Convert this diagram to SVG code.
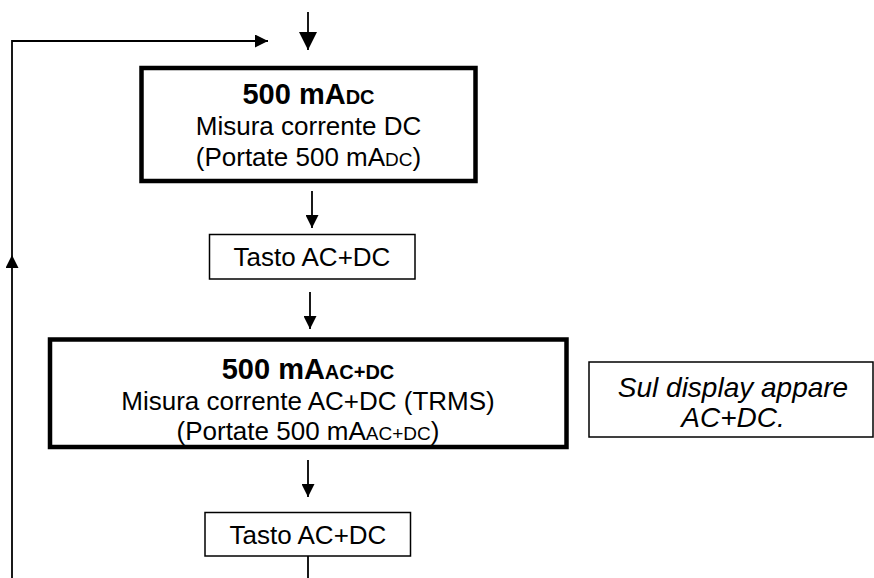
<svg xmlns="http://www.w3.org/2000/svg" width="874" height="578" viewBox="0 0 874 578">
<style>
text{font-family:"Liberation Sans",Arial,sans-serif;font-size:26px;fill:#000;text-anchor:middle}
.b{font-weight:bold;font-size:29px}
.i{font-style:italic;font-size:28px}
.s{font-size:19px}
.bs{font-size:20px}
.thick{fill:#fff;stroke:#000;stroke-width:4.5}
.thin{fill:#fff;stroke:#000;stroke-width:1.5}
.ln{fill:none;stroke:#000;stroke-width:1.8}
</style>
<defs>
<marker id="ah" viewBox="0 0 10 10" refX="10" refY="5" markerWidth="13" markerHeight="13" markerUnits="userSpaceOnUse" orient="auto"><path d="M0,0L10,5L0,10z" fill="#000"/></marker>
<marker id="ahb" viewBox="0 0 10 10" refX="10" refY="5" markerWidth="18" markerHeight="18" markerUnits="userSpaceOnUse" orient="auto"><path d="M0,0L10,5L0,10z" fill="#000"/></marker>
</defs>
<g id="connectors">
<path class="ln" d="M308,12V50" stroke-width="4.5" marker-end="url(#ahb)"/>
<path class="ln" d="M12,578V255" marker-end="url(#ah)"/>
<path class="ln" d="M12,255V41H268" marker-end="url(#ah)"/>
<path class="ln" d="M312,191V228" marker-end="url(#ah)"/>
<path class="ln" d="M310,292V329" marker-end="url(#ah)"/>
<path class="ln" d="M308,460V497" marker-end="url(#ah)"/>
<path class="ln" d="M308,556V578"/>
</g>
<g id="box1">
<rect class="thick" x="141.5" y="68" width="334" height="113"/>
<text x="308.5" y="104" class="b">500 mA<tspan class="bs">DC</tspan></text>
<text x="308.5" y="135">Misura corrente DC</text>
<text x="308.5" y="166">(Portate 500 mA<tspan class="s">DC</tspan>)</text>
</g>
<g id="tasto1">
<rect class="thin" x="209.5" y="234.5" width="205.5" height="44.5"/>
<text x="312" y="266">Tasto AC+DC</text>
</g>
<g id="box3">
<rect class="thick" x="50" y="339.5" width="516.5" height="107.5"/>
<text x="308" y="379" class="b">500 mA<tspan class="bs">AC+DC</tspan></text>
<text x="308" y="410">Misura corrente AC+DC (TRMS)</text>
<text x="308" y="440">(Portate 500 mA<tspan class="s">AC+DC</tspan>)</text>
</g>
<g id="tasto2">
<rect class="thin" x="205" y="512.5" width="205.5" height="43.5"/>
<text x="308" y="544">Tasto AC+DC</text>
</g>
<g id="note">
<rect class="thin" x="589" y="362" width="284" height="75"/>
<text x="733" y="397" class="i">Sul display appare</text>
<text x="733" y="427" class="i">AC+DC.</text>
</g>
</svg>
